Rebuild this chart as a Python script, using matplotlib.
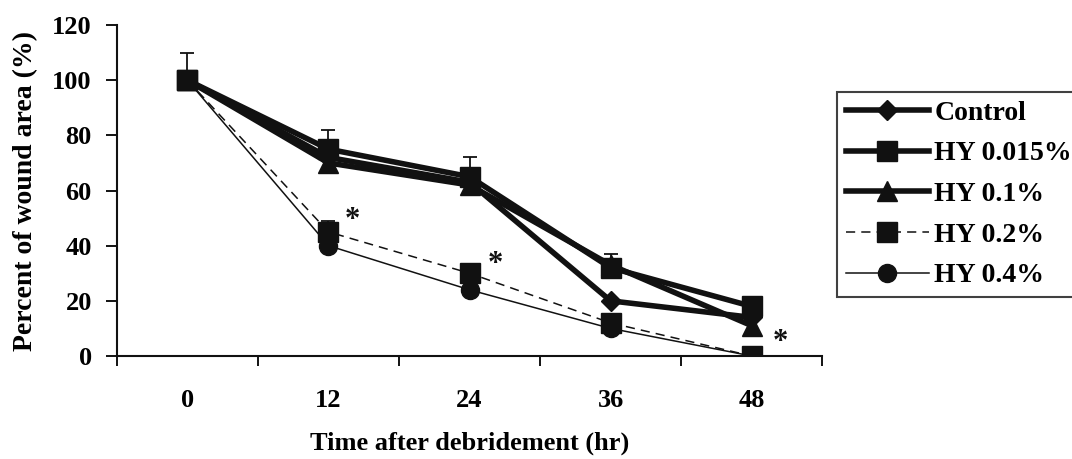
import matplotlib
matplotlib.use('Agg')
import matplotlib.pyplot as plt

# time points (hr)
hours = [0, 12, 24, 36, 48]

control = [100, 72, 63, 20, 14]
hy_0015 = [100, 75, 65, 32, 18]
hy_01 = [100, 70, 62, 33, 11]
hy_02 = [100, 45, 30, 12, 0]
hy_04 = [100, 40, 24, 10, 0]

# upper error bars (only the visible ones)
err_0015 = [10, 7, 7, 5, 0]
err_02 = [0, 4, 0, 0, 0]

# significance markers
star_x = [14, 26.2, 50.4]
star_y = [49, 33, 5]

plt.rcParams['font.family'] = ['Liberation Serif', 'DejaVu Serif']
plt.rcParams['font.weight'] = 'bold'

fig = plt.figure(figsize=(10.72, 4.59), dpi=100)
ax = fig.add_axes([0.109, 0.2244, 0.658, 0.7211])

ink = '#111111'
ax.errorbar(hours, hy_0015, yerr=[[0] * 5, err_0015], fmt='none', ecolor=ink,
            elinewidth=1.3, capsize=5, capthick=1.3, zorder=2)
ax.errorbar(hours, hy_02, yerr=[[0] * 5, err_02], fmt='none', ecolor=ink,
            elinewidth=1.3, capsize=5, capthick=1.3, zorder=2)

ax.plot(hours, hy_04, color=ink, lw=1.1, marker='o', ms=13, label='HY 0.4%', zorder=3)
ax.plot(hours, hy_02, color=ink, lw=1.1, ls=(0, (6, 4)), marker='s', ms=14,
        label='HY 0.2%', zorder=3)
ax.plot(hours, hy_01, color=ink, lw=4, marker='^', ms=15, label='HY 0.1%', zorder=4)
ax.plot(hours, hy_0015, color=ink, lw=4, marker='s', ms=14, label='HY 0.015%', zorder=4)
ax.plot(hours, control, color=ink, lw=4, marker='D', ms=10, label='Control', zorder=5)

for sx, sy in zip(star_x, star_y):
    ax.text(sx, sy, '*', fontsize=22, ha='center', va='center', color=ink)

ax.set_xlim(-6, 54)
ax.set_ylim(0, 120)
ax.set_yticks(range(0, 121, 20))
ax.set_xticks([-6, 6, 18, 30, 42, 54])
ax.set_xticklabels([])
ax.set_xticks(hours, minor=True)
ax.set_xticklabels([str(h) for h in hours], minor=True)
ax.tick_params(axis='x', which='minor', length=0, pad=24, labelsize=19)
ax.tick_params(axis='x', which='major', length=7, width=1.3, direction='out')
ax.tick_params(axis='y', length=8, width=1.3, direction='out', pad=10, labelsize=19)

for s in ['top', 'right']:
    ax.spines[s].set_visible(False)
for s in ['left', 'bottom']:
    ax.spines[s].set_linewidth(1.5)
    ax.spines[s].set_color(ink)

ax.set_xlabel('Time after debridement (hr)', fontsize=19, fontweight='bold', labelpad=14)
ax.set_ylabel('Percent of wound area (%)', fontsize=20, fontweight='bold', labelpad=10)

handles, labels = ax.get_legend_handles_labels()
order = [4, 3, 2, 1, 0]
leg = fig.legend([handles[i] for i in order], [labels[i] for i in order],
                 loc='upper left', bbox_to_anchor=(0.781, 0.80),
                 fontsize=20, frameon=True, fancybox=False, edgecolor=ink,
                 handlelength=3.0, handletextpad=0.2, labelspacing=0.55,
                 borderpad=0.3, borderaxespad=0)
leg.get_frame().set_linewidth(1.5)

fig.savefig('out.png', dpi=100)
